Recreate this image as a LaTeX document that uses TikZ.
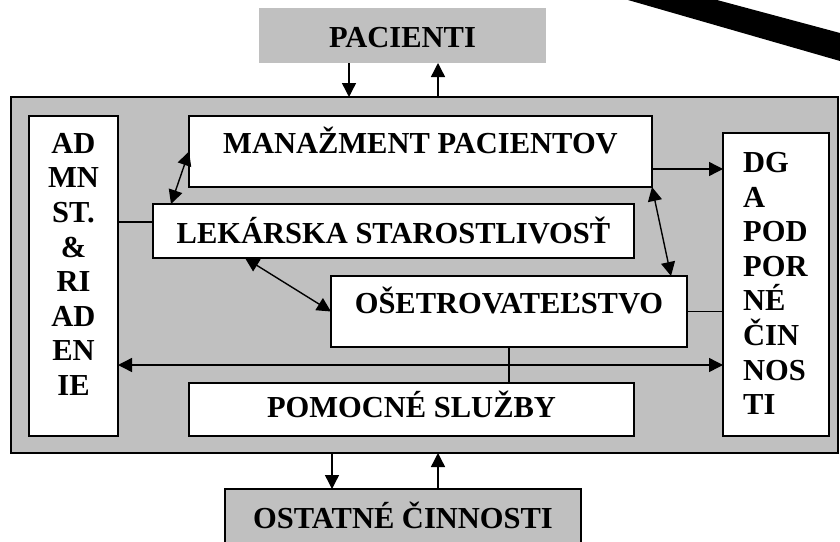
\documentclass[tikz,border=0pt]{standalone}
\usepackage{fontspec}
\setmainfont{Liberation Serif}
\usetikzlibrary{arrows.meta}
\definecolor{panel}{HTML}{C0C0C0}
\begin{document}
\begin{tikzpicture}[x=1pt,y=-1pt,
  every node/.style={font=\fontsize{30.5pt}{34.6pt}\selectfont\bfseries},
  unit/.style={draw, fill=white, line width=2pt, inner sep=0pt, outer sep=0pt},
  shaded/.style={fill=panel, inner sep=0pt, outer sep=0pt},
  link/.style={line width=1.4pt},
  tip/.tip={Triangle[length=14pt,width=14pt]},
  arr/.style={link, -tip},
  dbl/.style={link, tip-tip}]
\useasboundingbox (0,0) rectangle (840,541);

% diagonal black band in the upper right corner
\fill (628,0) -- (717,0) -- (840,33) -- (840,61) -- cycle;

% outer units
\node[shaded, minimum width=287pt, minimum height=55pt, text height=23pt, text depth=0pt]
  (pac) at (402.5,35.5) {PACIENTI};
\node[shaded, draw, line width=2pt, minimum width=827pt, minimum height=356pt]
  (main) at (424.5,275) {};
\node[shaded, draw, line width=2pt, minimum width=356pt, minimum height=71pt, text height=20pt, text depth=13pt]
  (ost) at (403,524.5) {OSTATNÉ ČINNOSTI};

% inner units
\node[unit, minimum width=89pt, minimum height=320pt] (admn) at (73.5,276) {};
\node[inner sep=0pt, anchor=north, align=center] (admntxt) at (73.5,133)
  {AD\\MN\\ST.\\\&\\RI\\AD\\EN\\IE};
\node[unit, minimum width=106pt, minimum height=303pt] (dg) at (776,284.5) {};
\node[inner sep=0pt, anchor=north west, align=left] (dgtxt) at (743,152)
  {DG\\A\\POD\\POR\\NÉ\\ČIN\\NOS\\TI};
\node[unit, minimum width=463pt, minimum height=71pt, text height=20pt, text depth=17pt]
  (man) at (420.5,151.5) {MANAŽMENT PACIENTOV};
\node[unit, minimum width=481pt, minimum height=54pt, text height=24pt, text depth=0pt]
  (lek) at (393.5,231) {LEKÁRSKA STAROSTLIVOSŤ\hspace{12pt}};
\node[unit, minimum width=356pt, minimum height=71pt, text height=20pt, text depth=17pt]
  (ose) at (509,311.5) {OŠETROVATEĽSTVO};
\node[unit, minimum width=445pt, minimum height=53pt, text height=20pt, text depth=5pt]
  (pom) at (411.5,409.5) {POMOCNÉ SLUŽBY};

% flows to and from the patients and other activities
\coordinate (pin) at ([xshift=-53.5pt]pac.south);
\coordinate (pout) at ([xshift=35.5pt]pac.south);
\draw[arr] (pin) -- (pin |- main.north);
\draw[arr] (pout |- main.north) -- (pout);
\coordinate (oin) at ([xshift=-71pt]ost.north);
\coordinate (oout) at ([xshift=35pt]ost.north);
\draw[arr] (oin |- main.south) -- (oin);
\draw[arr] (oout) -- (oout |- main.south);

% links between the inner units
\draw[dbl] ([xshift=-222.5pt]lek.north) -- (man.west);
\draw[dbl] ([xshift=-148.5pt]lek.south) -- (ose.west);
\draw[dbl] (man.south east) -- ([xshift=162pt]ose.north);
\coordinate (mdg) at ([yshift=-17.5pt]man.east);
\draw[arr] (mdg) -- (mdg -| dg.west);
\coordinate (alk) at ([yshift=9pt]lek.west);
\draw[link] (admn.east |- alk) -- (alk);
\draw[link] (ose.east) -- (dg.west |- ose.east);
\draw[link] (ose.south) -- (pom.north -| ose.south);
\coordinate (hz) at ([yshift=-89pt]admn.east);
\draw[dbl] (hz) -- (hz -| dg.west);
\end{tikzpicture}
\end{document}
